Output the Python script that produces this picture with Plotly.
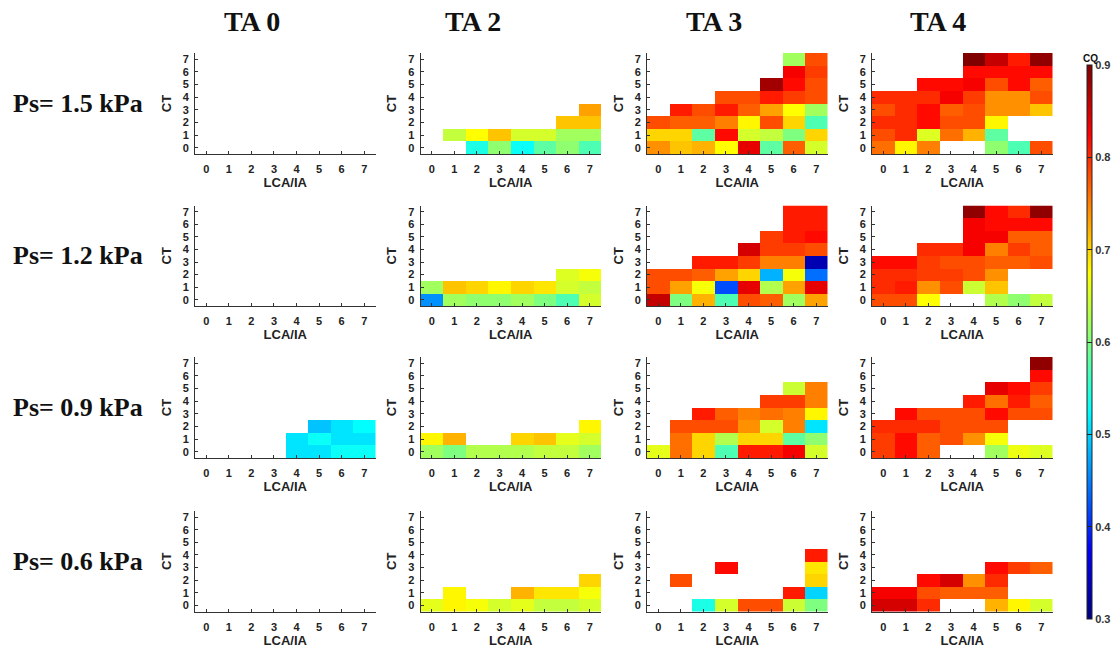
import plotly.graph_objects as go

N = None

col_titles = ["TA 0", "TA 2", "TA 3", "TA 4"]
row_titles = ["Ps= 1.5 kPa", "Ps= 1.2 kPa", "Ps= 0.9 kPa", "Ps= 0.6 kPa"]
lca_ticks = [0, 1, 2, 3, 4, 5, 6, 7]
ct_ticks = [0, 1, 2, 3, 4, 5, 6, 7]
cbar_ticks = [0.3, 0.4, 0.5, 0.6, 0.7, 0.8, 0.9]

# each panel: rows are CT = 0..7 (bottom to top), columns LCA/IA = 0..7
ta0_p15 = []
ta2_p15 = [
    [N, N, 0.54, 0.61, 0.53, 0.58, 0.61, 0.57],
    [N, 0.64, 0.675, 0.71, 0.65, 0.65, 0.62, 0.62],
    [N, N, N, N, N, N, 0.71, 0.71],
    [N, N, N, N, N, N, N, 0.73],
]
ta3_p15 = [
    [0.74, 0.71, 0.72, 0.675, 0.84, 0.58, 0.77, 0.65],
    [0.70, 0.70, 0.58, 0.82, 0.65, 0.64, 0.60, 0.70],
    [0.78, 0.77, 0.77, 0.75, 0.68, 0.78, 0.70, 0.57],
    [N, 0.81, 0.78, 0.81, 0.77, 0.73, 0.675, 0.62],
    [N, N, N, 0.78, 0.78, 0.81, 0.79, 0.78],
    [N, N, N, N, N, 0.88, 0.82, 0.78],
    [N, N, N, N, N, N, 0.83, 0.79],
    [N, N, N, N, N, N, 0.62, 0.78],
]
ta4_p15 = [
    [0.76, 0.68, 0.75, N, N, 0.61, 0.57, 0.78],
    [0.78, 0.80, 0.655, 0.76, 0.72, 0.58, N, N],
    [0.80, 0.80, 0.82, 0.78, 0.78, 0.68, N, N],
    [0.78, 0.80, 0.82, 0.77, 0.78, 0.74, 0.74, 0.71],
    [0.80, 0.80, 0.80, 0.83, 0.79, 0.74, 0.74, 0.78],
    [N, N, 0.82, 0.82, 0.83, 0.78, 0.82, 0.77],
    [N, N, N, N, 0.82, 0.82, 0.82, 0.82],
    [N, N, N, N, 0.90, 0.86, 0.81, 0.89],
]

ta0_p12 = []
ta2_p12 = [
    [0.46, 0.62, 0.61, 0.61, 0.62, 0.60, 0.57, 0.65],
    [0.62, 0.71, 0.70, 0.68, 0.70, 0.69, 0.65, 0.64],
    [N, N, N, N, N, N, 0.655, 0.67],
]
ta3_p12 = [
    [0.86, 0.60, 0.72, 0.57, 0.78, 0.77, 0.62, 0.73],
    [0.78, 0.73, 0.67, 0.42, 0.84, 0.63, 0.73, 0.84],
    [0.78, 0.78, 0.77, 0.73, 0.70, 0.48, 0.67, 0.44],
    [N, N, 0.81, 0.81, 0.79, 0.75, 0.75, 0.33],
    [N, N, N, N, 0.85, 0.79, 0.79, 0.78],
    [N, N, N, N, N, 0.79, 0.81, 0.82],
    [N, N, N, N, N, N, 0.81, 0.81],
    [N, N, N, N, N, N, 0.81, 0.81],
]
ta4_p12 = [
    [0.78, 0.78, 0.675, N, N, 0.63, 0.61, 0.64],
    [0.80, 0.81, 0.74, 0.78, 0.645, 0.71, N, N],
    [0.80, 0.80, 0.79, 0.79, 0.78, 0.74, N, N],
    [0.82, 0.82, 0.79, 0.78, 0.78, 0.77, 0.77, 0.78],
    [N, N, 0.80, 0.80, 0.83, 0.75, 0.79, 0.77],
    [N, N, N, N, 0.83, 0.83, 0.77, 0.77],
    [N, N, N, N, 0.83, 0.82, 0.82, 0.82],
    [N, N, N, N, 0.89, 0.82, 0.80, 0.89],
]

ta0_p09 = [
    [N, N, N, N, 0.51, 0.51, 0.53, 0.53],
    [N, N, N, N, 0.51, 0.53, 0.51, 0.51],
    [N, N, N, N, N, 0.49, 0.51, 0.525],
]
ta2_p09 = [
    [0.62, 0.60, 0.63, 0.63, 0.63, 0.64, 0.64, 0.62],
    [0.68, 0.72, N, N, 0.70, 0.71, 0.66, 0.65],
    [N, N, N, N, N, N, N, 0.68],
]
ta3_p09 = [
    [0.66, 0.76, 0.70, 0.57, 0.81, 0.81, 0.83, 0.65],
    [N, 0.76, 0.70, 0.63, 0.70, 0.70, 0.58, 0.61],
    [N, 0.78, 0.78, 0.78, 0.74, 0.65, 0.75, 0.51],
    [N, N, 0.81, 0.77, 0.75, 0.76, 0.75, 0.68],
    [N, N, N, N, N, 0.79, 0.79, 0.75],
    [N, N, N, N, N, N, 0.645, 0.75],
]
ta4_p09 = [
    [0.79, 0.82, 0.77, N, N, 0.62, 0.665, 0.655],
    [0.79, 0.82, 0.77, 0.78, 0.74, 0.67, N, N],
    [0.80, 0.80, 0.80, 0.78, 0.78, 0.78, N, N],
    [N, 0.82, 0.78, 0.78, 0.78, 0.82, 0.78, 0.78],
    [N, N, N, N, 0.81, 0.76, 0.81, 0.77],
    [N, N, N, N, N, 0.84, 0.82, 0.79],
    [N, N, N, N, N, N, N, 0.82],
    [N, N, N, N, N, N, N, 0.89],
]

ta0_p06 = []
ta2_p06 = [
    [0.66, 0.68, 0.67, 0.65, 0.66, 0.64, 0.64, 0.65],
    [N, 0.68, N, N, 0.72, 0.69, 0.69, 0.67],
    [N, N, N, N, N, N, N, 0.70],
]
ta3_p06 = [
    [N, N, 0.54, 0.65, 0.78, 0.78, 0.645, 0.60],
    [N, N, N, N, N, N, 0.81, 0.50],
    [N, 0.78, N, N, N, N, N, 0.70],
    [N, N, N, 0.82, N, N, N, 0.69],
    [N, N, N, N, N, N, N, 0.81],
]
ta4_p06 = [
    [0.85, 0.85, 0.80, N, N, 0.72, 0.68, 0.65],
    [0.83, 0.83, 0.78, 0.77, 0.77, 0.77, N, N],
    [N, N, 0.82, 0.85, 0.74, 0.80, N, N],
    [N, N, N, N, N, 0.82, 0.79, 0.77],
]

panels = [
    [ta0_p15, ta2_p15, ta3_p15, ta4_p15],
    [ta0_p12, ta2_p12, ta3_p12, ta4_p12],
    [ta0_p09, ta2_p09, ta3_p09, ta4_p09],
    [ta0_p06, ta2_p06, ta3_p06, ta4_p06],
]

W, H = 1120, 653
# pixel geometry of the axes boxes
col_px = [(195, 375.5), (420.5, 601), (647, 827.5), (872, 1052.5)]
row_px = [(53, 154), (205.5, 306), (357, 458), (511, 611.5)]

jet = [
    [0.0, "rgb(0,0,128)"],
    [0.125, "rgb(0,0,255)"],
    [0.375, "rgb(0,255,255)"],
    [0.625, "rgb(255,255,0)"],
    [0.875, "rgb(255,0,0)"],
    [1.0, "rgb(128,0,0)"],
]

SANS = "Liberation Sans, Arial, sans-serif"
SERIF = "Liberation Serif, Times New Roman, serif"
tick_font = dict(family=SANS, size=11, color="#222", weight="bold")
lab_font = dict(family=SANS, size=13, color="#222", weight="bold")


def pad(rows):
    rows = [list(r) for r in rows]
    while len(rows) < 8:
        rows.append([N] * 8)
    return rows


fig = go.Figure()
layout = {}
for r in range(4):
    for c in range(4):
        idx = r * 4 + c + 1
        sfx = "" if idx == 1 else str(idx)
        x0, x1 = col_px[c]
        y0, y1 = row_px[r]
        layout["xaxis" + sfx] = dict(
            domain=[x0 / W, x1 / W], range=[-0.5, 7.5], anchor="y" + sfx,
            tickvals=lca_ticks, ticktext=[str(v) for v in lca_ticks],
            ticks="inside", ticklen=3, tickcolor="#333",
            showline=True, linecolor="#333", linewidth=1,
            showgrid=False, zeroline=False, fixedrange=True,
            tickfont=tick_font, ticklabelstandoff=5,
            title=dict(text="LCA/IA", font=lab_font, standoff=3),
        )
        layout["yaxis" + sfx] = dict(
            domain=[1 - y1 / H, 1 - y0 / H], range=[-0.5, 7.5], anchor="x" + sfx,
            tickvals=ct_ticks, ticktext=[str(v) for v in ct_ticks],
            ticks="inside", ticklen=3, tickcolor="#333",
            showline=True, linecolor="#333", linewidth=1,
            showgrid=False, zeroline=False, fixedrange=True,
            tickfont=tick_font, ticklabelstandoff=3,
            title=dict(text="CT", font=lab_font, standoff=8),
        )
        data = panels[r][c]
        if data:
            fig.add_trace(go.Heatmap(
                z=pad(data), x=lca_ticks, y=ct_ticks,
                coloraxis="coloraxis", xaxis="x" + sfx, yaxis="y" + sfx,
                xgap=0, ygap=0, hoverongaps=False,
            ))
        else:
            fig.add_trace(go.Scatter(
                x=[None], y=[None], mode="markers", showlegend=False,
                xaxis="x" + sfx, yaxis="y" + sfx, hoverinfo="skip",
            ))

annotations = []
title_x = [252, 473, 714, 938]
for c, t in enumerate(col_titles):
    annotations.append(dict(
        text="<b>%s</b>" % t, x=title_x[c] / W, y=1 - 22 / H,
        xref="paper", yref="paper", showarrow=False,
        xanchor="center", yanchor="middle",
        font=dict(family=SERIF, size=28, color="#111"),
    ))
for r, t in enumerate(row_titles):
    yc = (row_px[r][0] + row_px[r][1]) / 2
    annotations.append(dict(
        text="<b>%s</b>" % t, x=78 / W, y=1 - yc / H,
        xref="paper", yref="paper", showarrow=False,
        xanchor="center", yanchor="middle",
        font=dict(family=SERIF, size=26, color="#111"),
    ))
annotations.append(dict(
    text="<b>CQ</b>", x=1090 / W, y=1 - 58 / H,
    xref="paper", yref="paper", showarrow=False,
    xanchor="center", yanchor="middle",
    font=dict(family=SANS, size=10, color="#111"),
))

fig.update_layout(
    width=W, height=H,
    margin=dict(l=0, r=0, t=0, b=0),
    paper_bgcolor="white", plot_bgcolor="white",
    showlegend=False,
    annotations=annotations,
    coloraxis=dict(
        cmin=0.3, cmax=0.9, colorscale=jet,
        colorbar=dict(
            x=1087 / W, xanchor="left", y=1 - 65 / H, yanchor="top",
            len=554 / H, lenmode="fraction", thickness=5, thicknessmode="pixels",
            outlinewidth=1, outlinecolor="#222",
            tickvals=cbar_ticks, ticktext=["%.1f" % v for v in cbar_ticks],
            ticks="inside", ticklen=5, tickcolor="#222",
            tickfont=dict(family=SANS, size=11, color="#333", weight="bold"),
            xpad=0, ypad=0,
        ),
    ),
    **layout,
)

fig.write_html("out.html")
